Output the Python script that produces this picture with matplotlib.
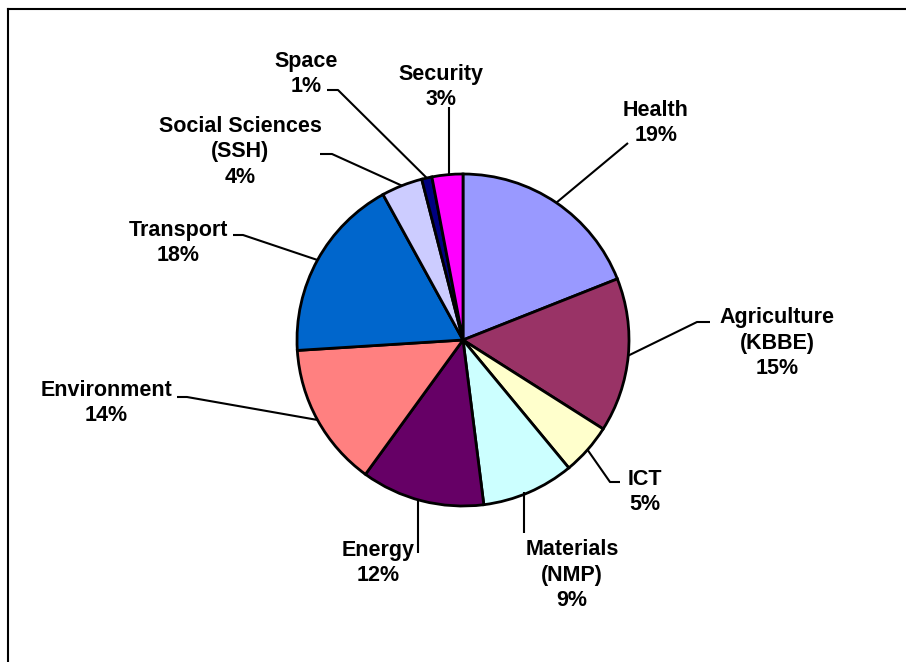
import numpy as np
import matplotlib
matplotlib.use("Agg")
import matplotlib.pyplot as plt
from matplotlib.lines import Line2D

categories = ["Health", "Agriculture\n(KBBE)", "ICT", "Materials\n(NMP)", "Energy",
              "Environment", "Transport", "Social Sciences\n(SSH)", "Space", "Security"]
values = [19, 15, 5, 9, 12, 14, 18, 4, 1, 3]
colors = ["#9999FF", "#993366", "#FFFFCC", "#CCFFFF", "#660066",
          "#FF8080", "#0066CC", "#CCCCFF", "#000080", "#FF00FF"]

W, H = 906, 662
fig = plt.figure(figsize=(W / 100, H / 100), dpi=100)
ax = fig.add_axes([0, 0, 1, 1])

CX, CY, R = 463, H - 340, 166
ax.pie(values, colors=colors, startangle=90, counterclock=False,
       center=(CX, CY), radius=R,
       wedgeprops=dict(edgecolor="black", linewidth=2.0))
ax.set_xlim(0, W)
ax.set_ylim(0, H)
ax.set_aspect("equal")
ax.axis("off")

# label layout (pixel positions, y from top): text centre, and leader knee points
label_pos = [(656, 123), (777, 343), (645, 492), (572, 575), (378, 563),
             (106, 403), (178, 243), (240, 152), (306, 74), (441, 87)]
leader_pts = [
    [(628, 143)],
    [(710, 322), (697, 322)],
    [(620, 482), (610, 482)],
    [(524, 533)],
    [(418, 553)],
    [(177, 397), (187, 397)],
    [(233, 235), (243, 235)],
    [(320, 154), (332, 154)],
    [(327, 90), (338, 90)],
    [(449, 107)],
]

total = sum(values)
cum = np.cumsum([0] + values)
for i, (cat, v) in enumerate(zip(categories, values)):
    mid = (cum[i] + v / 2) / total * 2 * np.pi
    px = CX + R * np.sin(mid)
    py = CY + R * np.cos(mid)
    pts = [(x, H - y) for x, y in leader_pts[i]] + [(px, py)]
    if len(leader_pts[i]) == 1 and i in (3, 4, 9):
        pts[-1] = (pts[0][0], py)
    xs, ys = zip(*pts)
    ax.plot(xs, ys, color="black", linewidth=1.5, solid_capstyle="butt")
    tx, ty = label_pos[i]
    ax.text(tx, H - ty, f"{cat}\n{v}%", ha="center", va="center",
            fontsize=15.5, fontweight="bold", family="Liberation Sans",
            linespacing=1.3)

# chart frame (only left and top edges visible)
fig.add_artist(Line2D([8 / W, 8 / W], [0, 1 - 9 / H], transform=fig.transFigure,
                      color="black", linewidth=1.5))
fig.add_artist(Line2D([8 / W, 1], [1 - 9 / H, 1 - 9 / H], transform=fig.transFigure,
                      color="black", linewidth=1.5))

fig.savefig("out.png", dpi=100, facecolor="white")
